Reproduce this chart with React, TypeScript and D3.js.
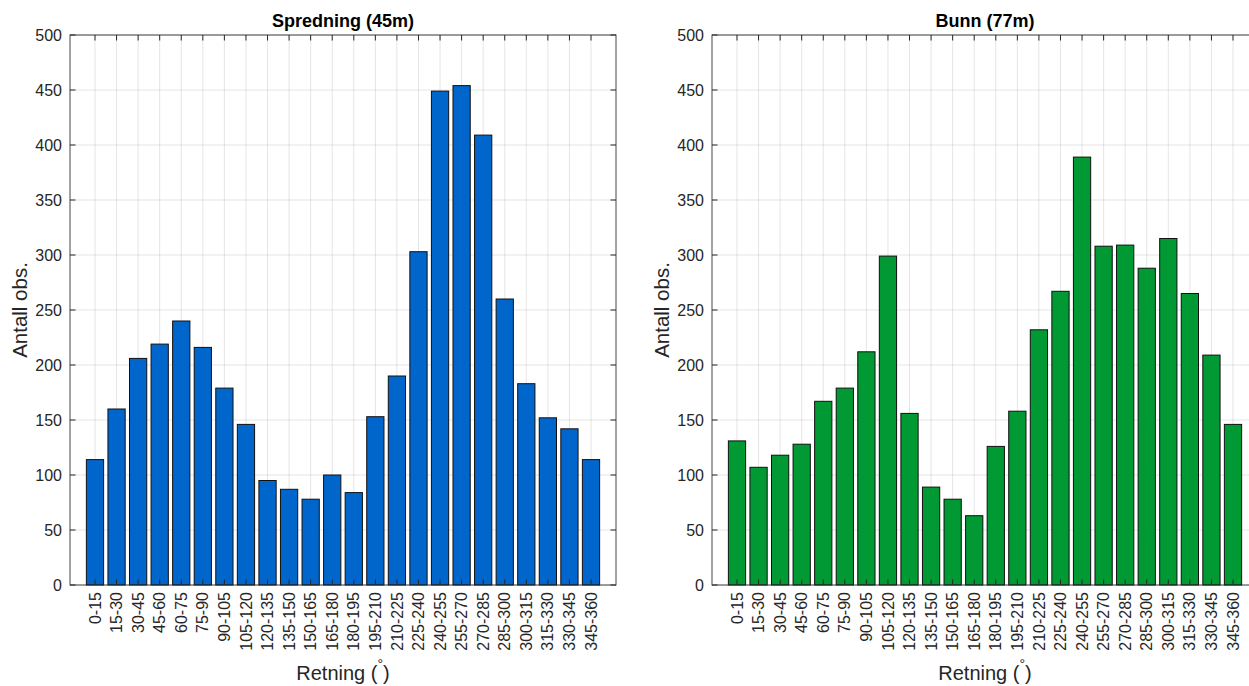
import React from "react";
import * as d3 from "d3";

// direction bins (degrees)
const categories = [
  "0-15", "15-30", "30-45", "45-60", "60-75", "75-90", "90-105", "105-120",
  "120-135", "135-150", "150-165", "165-180", "180-195", "195-210", "210-225",
  "225-240", "240-255", "255-270", "270-285", "285-300", "300-315", "315-330",
  "330-345", "345-360",
];

// number of observations, spreading layer (45m)
const spredning = [
  114, 160, 206, 219, 240, 216, 179, 146, 95, 87, 78, 100, 84, 153, 190,
  303, 449, 454, 409, 260, 183, 152, 142, 114,
];

// number of observations, bottom (77m)
const bunn = [
  131, 107, 118, 128, 167, 179, 212, 299, 156, 89, 78, 63, 126, 158, 232,
  267, 389, 308, 309, 288, 315, 265, 209, 146,
];

const yTicks = [0, 50, 100, 150, 200, 250, 300, 350, 400, 450, 500];

const W = 1249;
const H = 686;
const axW = 546;
const axTop = 35;
const axBottom = 585;
const font = "'Liberation Sans', Arial, Helvetica, sans-serif";
const ink = "#262626";

const Panel = ({ left, title, values, color }) => {
  const x = d3.scalePoint().domain(categories).range([0, axW]).padding(1.159);
  const y = d3.scaleLinear().domain([0, 500]).range([axBottom - axTop, 0]);
  const bw = x.step() * 0.8;
  const h = axBottom - axTop;
  const tick = 5.5;

  return (
    <g transform={`translate(${left},${axTop})`}>
      {/* grid */}
      {yTicks.map((t) => (
        <line key={"gy" + t} x1={0} x2={axW} y1={y(t)} y2={y(t)} stroke={ink} strokeOpacity={0.12} />
      ))}
      {categories.map((c) => (
        <line key={"gx" + c} x1={x(c)} x2={x(c)} y1={0} y2={h} stroke={ink} strokeOpacity={0.12} />
      ))}
      {/* bars */}
      {values.map((v, i) => (
        <rect
          key={"b" + i}
          x={x(categories[i]) - bw / 2}
          y={y(v)}
          width={bw}
          height={y(0) - y(v)}
          fill={color}
          stroke="#111"
          strokeWidth={1}
        />
      ))}
      {/* box */}
      <rect x={0} y={0} width={axW} height={h} fill="none" stroke={ink} strokeWidth={1} strokeOpacity={0.85} />
      {/* y ticks */}
      {yTicks.map((t) => (
        <g key={"ty" + t}>
          <line x1={0} x2={tick} y1={y(t)} y2={y(t)} stroke={ink} />
          <line x1={axW - tick} x2={axW} y1={y(t)} y2={y(t)} stroke={ink} />
          <text x={-8} y={y(t)} dy="0.35em" textAnchor="end" fontSize={16} fill={ink} fontFamily={font}>
            {t}
          </text>
        </g>
      ))}
      {/* x ticks */}
      {categories.map((c) => (
        <g key={"tx" + c}>
          <line x1={x(c)} x2={x(c)} y1={h} y2={h - tick} stroke={ink} />
          <line x1={x(c)} x2={x(c)} y1={0} y2={tick} stroke={ink} />
          <text
            transform={`translate(${x(c)},${h + 7}) rotate(-90)`}
            dy="0.35em"
            textAnchor="end"
            fontSize={16}
            fill={ink}
            fontFamily={font}
          >
            {c}
          </text>
        </g>
      ))}
      {/* title */}
      <text x={axW / 2} y={-8} textAnchor="middle" fontSize={18} fontWeight="bold" fill="#000" fontFamily={font}>
        {title}
      </text>
      {/* y label */}
      <text
        transform={`translate(-50,${h / 2}) rotate(-90)`}
        dy="0.35em"
        textAnchor="middle"
        fontSize={20.5}
        fill={ink}
        fontFamily={font}
      >
        Antall obs.
      </text>
      {/* x label */}
      <text x={axW / 2} y={h + 95} textAnchor="middle" fontSize={20} fill={ink} fontFamily={font}>
        Retning (
        <tspan dy={-11} fontSize={14}>°</tspan>
        <tspan dy={11}>)</tspan>
      </text>
    </g>
  );
};

export default function App() {
  return (
    <svg
      width={W}
      height={H}
      style={{ position: "absolute", left: 0, top: 0, background: "#fff", overflow: "hidden" }}
    >
      <rect width={W} height={H} fill="#fff" />
      <Panel left={70} title="Spredning (45m)" values={spredning} color="#0066cc" />
      <Panel left={712} title="Bunn (77m)" values={bunn} color="#009933" />
    </svg>
  );
}
